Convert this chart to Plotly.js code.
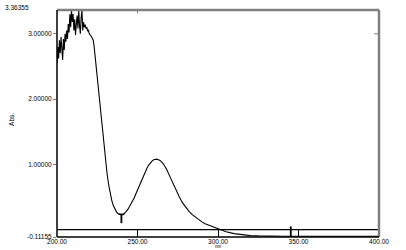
<!DOCTYPE html>
<html><head><meta charset="utf-8">
<script src="https://cdn.plot.ly/plotly-3.0.1.min.js"></script>
<style>html,body{margin:0;padding:0;background:#fff;}#chart{width:406px;height:250px;}</style>
</head><body><div id="chart"></div>
<script>
// Wavelength (nm) and absorbance
const wavelength = [
  200.0,200.5,201.0,201.5,202.0,202.5,203.0,203.5,204.0,204.5,
  205.0,205.5,206.0,206.5,207.0,207.5,208.0,208.5,209.0,209.5,
  210.0,210.5,211.0,211.5,212.0,212.5,213.0,213.5,214.0,214.5,
  215.0,215.5,216.0,216.5,217.0,217.5,218.0,218.5,219.0,219.5,
  220.0,220.5,221.0,221.5,222.0,222.5,223,224,225,226,227,228,229,230,
  231,232,233,234,235,236,237,238,239,240,241,242,243,244,245,246,247,248,249,250,
  251,252,253,254,255,256,257,258,259,260,261,262,263,264,266,268,270,272,274,276,
  278,280,282,284,286,288,290,292,294,296,298,300,302,305,310,315,320,325,330,335,
  340,345,350,355,360,365,370,375,380,385,390,395,400
];
const absorbance = [
  2.55,2.80,2.62,2.90,2.70,2.95,2.78,2.60,2.92,2.75,
  3.00,2.88,3.05,2.92,3.15,3.02,3.30,3.10,3.36,3.18,
  3.30,3.05,3.22,2.98,3.15,3.28,3.08,3.36,3.12,3.00,
  3.25,3.36,3.05,3.18,3.10,3.14,3.08,3.10,3.04,3.06,
  3.00,2.99,2.97,2.95,2.93,2.90,2.82,2.57,2.30,2.05,1.80,1.55,1.33,1.10,
  0.88,0.70,0.56,0.45,0.37,0.31,0.27,0.245,0.23,0.225,0.23,0.25,0.28,0.31,0.35,0.39,0.44,0.49,0.55,0.61,
  0.67,0.73,0.79,0.85,0.90,0.95,0.99,1.03,1.05,1.07,1.08,1.08,1.07,1.06,1.01,0.93,0.82,0.71,0.60,0.50,
  0.41,0.34,0.28,0.23,0.19,0.15,0.12,0.09,0.07,0.05,0.03,0.01,-0.01,-0.03,-0.06,-0.08,-0.09,-0.095,-0.10,-0.10,
  -0.10,-0.10,-0.10,-0.10,-0.10,-0.10,-0.10,-0.10,-0.10,-0.10,-0.10,-0.10,-0.10
];
const xTickVals = [200,250,300,350,400];
const xTickText = ["200.00","250.00","300.00","350.00","400.00"];
const yTickVals = [-0.11155,1,2,3];
const yTickText = ["-0.11155","1.00000","2.00000","3.00000"];
const yMin = -0.11155, yMax = 3.36355;
const yMaxLabel = "3.36355";
// peak-pick markers: [wavelength, top, bottom]
const pickX = [240, 345.2];
const pickTop = [0.24, 0.05];
const pickBottom = [0.10, -0.10];

const fnt = {family:"Liberation Sans, Arial, sans-serif", size:6.5, color:"#000"};
const shapes = [
  {type:"line", xref:"x", yref:"y", x0:200, x1:400, y0:0, y1:0, line:{color:"#000", width:1.2}},
  {type:"line", xref:"paper", yref:"paper", x0:0, x1:1, y0:1, y1:1, line:{color:"#808080", width:2.5}},
  {type:"line", xref:"paper", yref:"paper", x0:1, x1:1, y0:0, y1:1, line:{color:"#808080", width:2.5}},
  {type:"line", xref:"paper", yref:"paper", x0:0, x1:0, y0:0, y1:1, line:{color:"#000", width:1.5}},
  {type:"line", xref:"paper", yref:"paper", x0:0, x1:1, y0:0, y1:0, line:{color:"#000", width:1.5}},
  // small mirrored ticks seen at top (250) and right (3.0)
  {type:"line", xref:"x", yref:"paper", x0:250, x1:250, y0:1, y1:0.985, line:{color:"#808080", width:1}},
  {type:"line", xref:"paper", yref:"y", x0:1, x1:0.985, y0:3, y1:3, line:{color:"#808080", width:1}}
];
pickX.forEach((px,i)=>{
  shapes.push({type:"line", xref:"x", yref:"y", x0:px, x1:px, y0:pickTop[i], y1:pickBottom[i], line:{color:"#000", width:1.8}});
  if (i===0) shapes.push({type:"line", xref:"x", yref:"y", x0:px-2, x1:px+2, y0:pickTop[i], y1:pickTop[i], line:{color:"#000", width:1}});
});

Plotly.newPlot("chart", [{
  x: wavelength, y: absorbance, type:"scatter", mode:"lines",
  line:{color:"#000", width:1.1}, hoverinfo:"skip"
}], {
  width:406, height:250,
  margin:{l:57, r:27, t:10, b:13, pad:0},
  paper_bgcolor:"#fff", plot_bgcolor:"#fff",
  showlegend:false,
  xaxis:{range:[200,400], tickvals:xTickVals, ticktext:xTickText, ticks:"inside", ticklen:7,
         tickcolor:"#000", tickwidth:1, showgrid:false, zeroline:false, showline:false,
         tickfont:fnt, ticklabelstandoff:-1, automargin:false},
  yaxis:{range:[yMin,yMax], tickvals:yTickVals, ticktext:yTickText, ticks:"outside", ticklen:3,
         tickcolor:"#808080", tickwidth:1, showgrid:false, zeroline:false, showline:false,
         tickfont:fnt, automargin:false},
  shapes: shapes,
  annotations:[
    {xref:"paper", yref:"paper", x:-0.168, y:1, xanchor:"left", yanchor:"middle", text:yMaxLabel, showarrow:false, font:fnt, yshift:3},
    {xref:"paper", yref:"paper", x:-0.14, y:0.52, text:"Abs.", textangle:-90, showarrow:false, font:fnt, xanchor:"center", yanchor:"middle"},
    {xref:"paper", yref:"paper", x:0.5, y:0, yshift:-13, yanchor:"bottom", borderpad:0, text:"nm", showarrow:false, font:{family:fnt.family, size:4.5, color:"#000"}}
  ]
}, {staticPlot:true, displayModeBar:false});
</script></body></html>
